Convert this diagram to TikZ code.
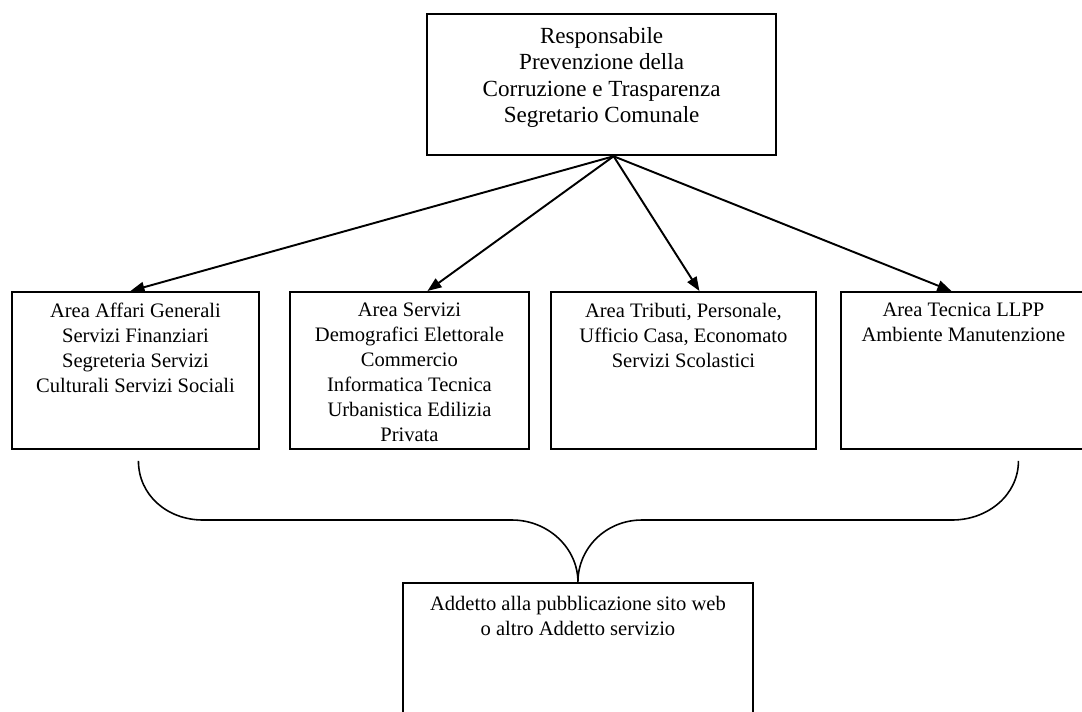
\documentclass[tikz,border=0pt]{standalone}
\usepackage{fontspec}
\setmainfont{Liberation Serif}
\usetikzlibrary{arrows.meta, calc}

\begin{document}
\begin{tikzpicture}[x=0.02cm, y=-0.02cm, >={Triangle[length=8pt,width=6pt]},
        unit/.style={draw, line width=1.1pt, anchor=north west, inner sep=0pt, minimum height=3.14cm},
        txt/.style={anchor=north, align=center, inner sep=0pt, font=\fontsize{11.7}{14.2}\selectfont},
        link/.style={->, line width=1.1pt},
        brace/.style={line width=0.9pt}]
        \useasboundingbox (0,0) rectangle (1082,711);
        \clip (0,0) rectangle (1082,711);

        \node[unit, line width=1.3pt, minimum width=6.98cm, minimum height=2.82cm] (rpct) at (426,13) {};
        \node[txt, font=\fontsize{13.15}{15.1}\selectfont] (rpcttxt) at ($(rpct.north)+(0,14)$)
            {Responsabile\\Prevenzione della\\Corruzione e Trasparenza\\Segretario Comunale};
        \coordinate (apex) at ($(rpct.south)+(12,0)$);

        \node[unit, minimum width=4.94cm] (gen) at (11,291) {};
        \node[unit, minimum width=4.78cm] (dem) at (289,291) {};
        \node[unit, minimum width=5.30cm] (trib) at (550,291) {};
        \node[unit, minimum width=4.90cm] (tec) at (840,291) {};

        \node[txt] (gentxt) at ($(gen.north)+(0,12)$)
            {Area Affari Generali\\Servizi Finanziari\\Segreteria Servizi\\Culturali Servizi Sociali};
        \begin{scope}
            \clip (dem.north west) rectangle ($(dem.south east)+(0,-4)$);
            \node[txt] (demtxt) at ($(dem.north)+(0,12)$)
                {Area Servizi\\Demografici Elettorale\\Commercio\\Informatica Tecnica\\Urbanistica Edilizia\\Privata};
        \end{scope}
        \node[txt] (tribtxt) at ($(trib.north)+(0,12)$)
            {Area Tributi, Personale,\\Ufficio Casa, Economato\\Servizi Scolastici};
        \node[txt] (tectxt) at ($(tec.north)+(0,12)$)
            {Area Tecnica LLPP\\Ambiente Manutenzione};

        \node[unit, minimum width=7.0cm, minimum height=2.96cm] (addetto) at (402,582) {};
        \node[txt] (addettotxt) at ($(addetto.north)+(0,14)$)
            {Addetto alla pubblicazione sito web\\o altro Addetto servizio};

        \draw[link] (apex) -- ($(gen.north)+(-5,0)$);
        \draw[link] (apex) -- ($(dem.north)+(18,0)$);
        \draw[link] (apex) -- ($(trib.north)+(16,0)$);
        \draw[link] (apex) -- ($(tec.north)+(-12,0)$);

        \coordinate (bl) at ($(gen.south)+(3,11)$);
        \coordinate (br) at ($(tec.south)+(55,11)$);
        \draw[brace] (bl) .. controls +(0,34) and +(-36,0) .. (203,520) -- (512,520)
            .. controls +(36,0) and +(0,-34) .. (addetto.north)
            .. controls +(0,-34) and +(-36,0) .. (642,520) -- (952,520)
            .. controls +(36,0) and +(0,34) .. (br);
    \end{tikzpicture}
\end{document}
